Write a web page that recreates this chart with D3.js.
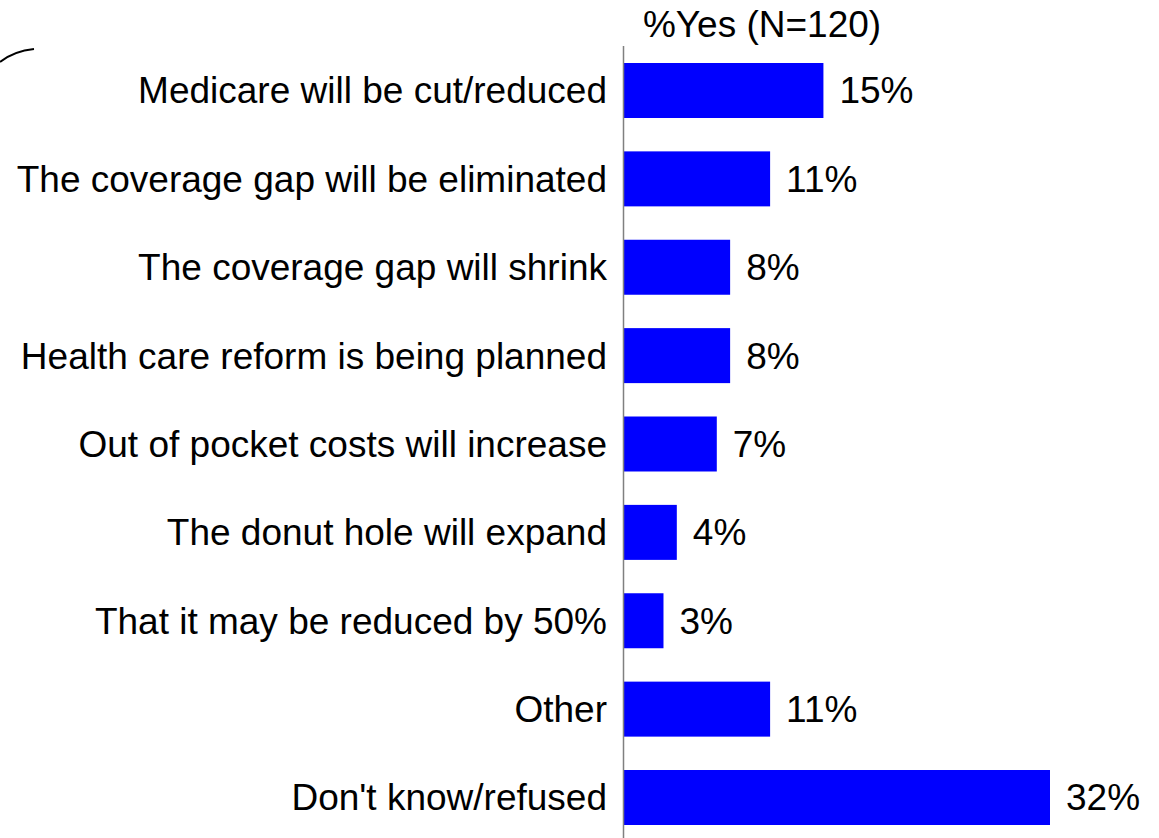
<!DOCTYPE html>
<html><head><meta charset="utf-8">
<script src="https://cdn.jsdelivr.net/npm/d3@7"></script>
<style>body{margin:0;background:#fff}svg{display:block}text{font-family:"Liberation Sans",Arial,sans-serif;fill:#000}</style>
</head><body><svg id="c" width="1159" height="838"></svg>
<script>
const categories = ["Medicare will be cut/reduced","The coverage gap will be eliminated","The coverage gap will shrink","Health care reform is being planned","Out of pocket costs will increase","The donut hole will expand","That it may be reduced by 50%","Other","Don't know/refused"];
const values = [15,11,8,8,7,4,3,11,32];
const title = "%Yes (N=120)";

const svg = d3.select("#c");
const x0 = 623.5;
const x = d3.scaleLinear().domain([0,32]).range([x0, 1050]);
const y = d3.scaleBand().domain(categories).range([63, 825]).paddingInner(0.3777).paddingOuter(0);
const fs = 37;

// decorative curve top-left
svg.append("path").attr("d","M0,62 Q14,51 34,49").attr("fill","none").attr("stroke","#000").attr("stroke-width",2);

svg.selectAll("rect.bar").data(values).join("rect").attr("class","bar")
  .attr("x", x(0)).attr("y",(d,i)=>y(categories[i]))
  .attr("width",d=>x(d)-x(0)).attr("height",y.bandwidth())
  .attr("fill","#0000ff");

svg.append("line").attr("x1",x0).attr("x2",x0).attr("y1",46).attr("y2",838)
  .attr("stroke","#808080").attr("stroke-width",1.5);

svg.selectAll("text.cat").data(categories).join("text").attr("class","cat")
  .attr("x",607).attr("y",d=>y(d)+y.bandwidth()/2).attr("dy","0.35em")
  .attr("text-anchor","end").attr("font-size",fs).text(d=>d);

svg.selectAll("text.val").data(values).join("text").attr("class","val")
  .attr("x",d=>x(d)+16).attr("y",(d,i)=>y(categories[i])+y.bandwidth()/2).attr("dy","0.35em")
  .attr("font-size",fs).text(d=>d+"%");

svg.append("text").attr("x",762).attr("y",37).attr("text-anchor","middle").attr("font-size",fs).text(title);
</script></body></html>
